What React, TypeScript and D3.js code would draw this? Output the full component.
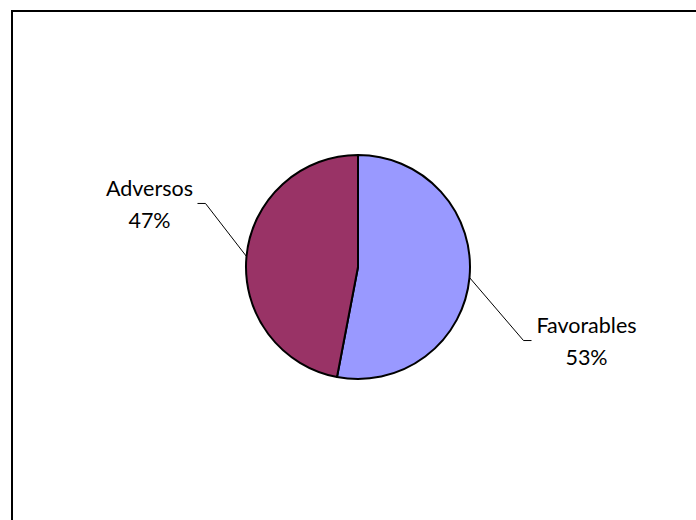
import React from "react";
import * as d3 from "d3";

const categories = ["Favorables", "Adversos"];
const values = [53, 47];
const colors = ["#9999FF", "#993366"];
// label placement relative to the slice mid-point on the rim: [elbowDx, elbowDy, side, textDx]
const labelOffsets: [number, number, number, number][] = [
  [54, 63, 1, 55],
  [-41, -53, -1, -48],
];

export default function App() {
  const W = 696, H = 520;
  const cx = 358, cy = 267, r = 112;
  const pie = d3.pie<number>().sort(null).startAngle(0).endAngle(2 * Math.PI);
  const arcs = pie(values);
  const arcGen = d3.arc<d3.PieArcDatum<number>>().innerRadius(0).outerRadius(r);
  const total = d3.sum(values);
  return (
    <svg width={W} height={H} style={{ position: "absolute", left: 0, top: 0 }}
      fontFamily="'Lato', 'Open Sans', sans-serif">
      <rect x={0} y={0} width={W} height={H} fill="#fff" />
      <rect x={12} y={11} width={W + 20} height={H + 20} fill="none" stroke="#000" strokeWidth={2} />
      <g transform={`translate(${cx},${cy})`}>
        {arcs.map((a, i) => (
          <path key={i} d={arcGen(a) || ""} fill={colors[i]} stroke="#000" strokeWidth={2} strokeLinejoin="round" />
        ))}
        {arcs.map((a, i) => {
          const mid = (a.startAngle + a.endAngle) / 2;
          const px = r * Math.sin(mid), py = -r * Math.cos(mid);
          const [dx, dy, side, tdx] = labelOffsets[i];
          const ex = px + dx, ey = py + dy;
          const hx = ex + side * 8;
          const tx = hx + tdx;
          const pct = Math.round((values[i] / total) * 100);
          return (
            <g key={"l" + i}>
              <polyline points={`${px},${py} ${ex},${ey} ${hx},${ey}`} fill="none" stroke="#000" strokeWidth={1} />
              <text x={tx} y={ey - 7.5} textAnchor="middle" fontSize={21.5} fill="#000">{categories[i]}</text>
              <text x={tx} y={ey + 24.5} textAnchor="middle" fontSize={21.5} fill="#000">{pct}%</text>
            </g>
          );
        })}
      </g>
    </svg>
  );
}
